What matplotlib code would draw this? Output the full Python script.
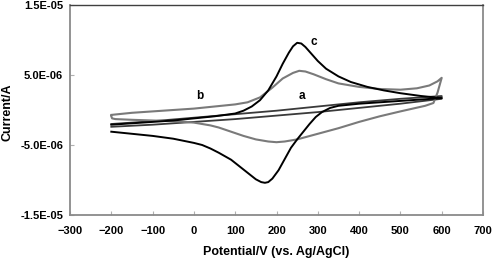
import numpy as np
import matplotlib
matplotlib.use("Agg")
import matplotlib.pyplot as plt
from matplotlib.ticker import FixedLocator, FuncFormatter

plt.rcParams['font.family'] = ['Liberation Sans', 'DejaVu Sans']

# curve a: bare electrode, no redox peaks (current in uA)
a_fwd_E = [-200, -100, 0, 100, 200, 300, 400, 500, 600]
a_fwd_I = [-2.0, -1.6, -1.1, -0.6, -0.1, 0.5, 1.1, 1.6, 2.0]
a_rev_E = [600, 500, 400, 300, 200, 100, 0, -100, -200]
a_rev_I = [1.6, 0.9, 0.3, -0.3, -0.8, -1.3, -1.7, -2.1, -2.4]

# curve b (gray)
b_fwd_E = [-200, -150, -100, -50, 0, 50, 100, 130, 160, 190, 215, 240, 255,
           270, 290, 320, 350, 400, 450, 500, 540, 570, 590, 600]
b_fwd_I = [-0.7, -0.4, -0.2, 0.0, 0.2, 0.5, 0.8, 1.1, 1.8, 3.2, 4.5, 5.3, 5.6,
           5.5, 5.1, 4.4, 3.8, 3.3, 3.0, 2.9, 3.1, 3.5, 4.1, 4.6]
b_rev_E = [600, 590, 580, 560, 530, 500, 450, 400, 350, 300, 250, 220, 200,
           180, 150, 120, 100, 80, 60, 40, 20, 0, -50, -100, -150, -190, -198, -200]
b_rev_I = [4.6, 2.5, 1.0, 0.6, 0.2, -0.2, -0.9, -1.7, -2.6, -3.4, -4.2, -4.5, -4.6,
           -4.5, -4.2, -3.7, -3.3, -2.9, -2.5, -2.2, -2.0, -1.8, -1.6, -1.5, -1.4,
           -1.3, -1.2, -0.9]

# curve c (black)
c_fwd_E = [-200, -150, -100, -50, 0, 50, 100, 120, 140, 160, 180, 200, 215, 230,
           240, 250, 260, 270, 285, 300, 320, 350, 380, 420, 460, 500, 550, 600]
c_fwd_I = [-2.1, -1.9, -1.7, -1.5, -1.2, -0.9, -0.5, -0.1, 0.5, 1.4, 2.8, 4.8, 6.6,
           8.2, 9.1, 9.6, 9.5, 9.0, 8.0, 7.0, 5.9, 4.8, 4.0, 3.3, 2.8, 2.4, 2.0, 1.7]
c_rev_E = [600, 550, 500, 450, 400, 350, 330, 310, 295, 280, 265, 250, 235, 220,
           205, 190, 180, 172, 163, 150, 135, 120, 105, 90, 75, 60, 40, 20, 0,
           -50, -100, -150, -200]
c_rev_I = [1.7, 1.5, 1.3, 1.1, 0.9, 0.6, 0.3, -0.3, -1.0, -2.0, -3.1, -4.2, -5.4,
           -7.0, -8.6, -9.8, -10.3, -10.4, -10.3, -9.9, -9.2, -8.5, -7.8, -7.1,
           -6.6, -6.1, -5.5, -5.0, -4.7, -4.1, -3.7, -3.4, -3.1]

x_ticks = [-300, -200, -100, 0, 100, 200, 300, 400, 500, 600, 700]
y_ticks = [-1.5e-5, -5e-6, 5e-6, 1.5e-5]

fig = plt.figure(figsize=(4.95, 2.63), dpi=100)
ax = fig.add_axes([70 / 495, 1 - 215 / 263, 413 / 495, 210 / 263])

def loop(fE, fI, rE, rI):
    E = np.array(fE + rE, dtype=float)
    I = np.array(fI + rI, dtype=float) * 1e-6
    return E, I

E, I = loop(a_fwd_E, a_fwd_I, a_rev_E, a_rev_I)
ax.plot(E, I, color='#3a3a3a', lw=1.3, solid_joinstyle='round')
E, I = loop(b_fwd_E, b_fwd_I, b_rev_E, b_rev_I)
ax.plot(E, I, color='#7a7a7a', lw=1.5, solid_joinstyle='round')
E, I = loop(c_fwd_E, c_fwd_I, c_rev_E, c_rev_I)
ax.plot(E, I, color='black', lw=1.4, solid_joinstyle='round')

ax.text(290, 9.7e-6, 'c', fontsize=8.5, fontweight='bold', ha='center', va='center')
ax.text(15, 2.0e-6, 'b', fontsize=8.5, fontweight='bold', ha='center', va='center')
ax.text(262, 2.0e-6, 'a', fontsize=8.5, fontweight='bold', ha='center', va='center')

ax.set_xlim(-300, 700)
ax.set_ylim(-1.5e-5, 1.5e-5)
ax.xaxis.set_major_locator(FixedLocator(x_ticks))
ax.yaxis.set_major_locator(FixedLocator(y_ticks))
ax.yaxis.set_major_formatter(FuncFormatter(lambda v, p: f"{v:.1E}"))
ax.tick_params(direction='in', length=3, width=0.8, color='#b0b0b0',
               labelsize=8, pad=5)
ax.tick_params(axis='x', pad=8)
for lab in ax.get_xticklabels() + ax.get_yticklabels():
    lab.set_fontweight('bold')

for side in ['left', 'bottom', 'right']:
    ax.spines[side].set_color('#8a8a8a')
    ax.spines[side].set_linewidth(1.3)
ax.spines['top'].set_color('#404040')
ax.spines['top'].set_linewidth(1.0)

fig.text(276 / 495, 1 - 252 / 263, 'Potential/V (vs. Ag/AgCl)', fontsize=9,
         fontweight='bold', ha='center', va='center')
fig.text(8 / 495, 1 - 112 / 263, 'Current/A', fontsize=9, fontweight='bold',
         ha='center', va='center', rotation=90)

fig.savefig('out.png', dpi=100)
